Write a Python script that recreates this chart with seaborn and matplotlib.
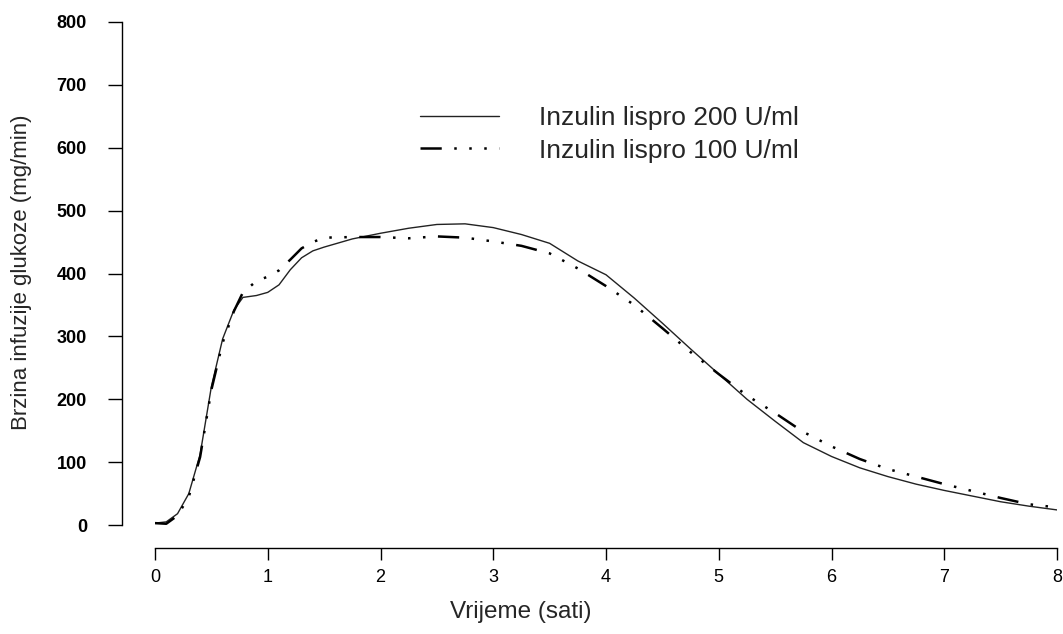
import pandas as pd
import matplotlib.pyplot as plt
import seaborn as sns

# vrijeme (sati) i brzina infuzije glukoze (mg/min), procijenjeno sa slike
t_200 = [0, 0.1, 0.2, 0.3, 0.4, 0.5, 0.6, 0.7, 0.78, 0.9, 1.0, 1.1, 1.2, 1.3, 1.4, 1.5,
         1.75, 2.0, 2.25, 2.5, 2.75, 3.0, 3.25, 3.5, 3.75, 4.0, 4.25, 4.5, 4.75, 5.0,
         5.25, 5.5, 5.75, 6.0, 6.25, 6.5, 6.75, 7.0, 7.25, 7.5, 7.75, 8.0]
gir_200 = [3, 5, 18, 50, 112, 220, 296, 342, 362, 365, 370, 382, 406, 425, 436, 442,
           455, 464, 472, 478, 479, 473, 462, 448, 420, 398, 361, 321, 280, 240,
           200, 165, 131, 109, 91, 77, 65, 55, 46, 37, 30, 24]

t_100 = [0, 0.1, 0.2, 0.3, 0.4, 0.5, 0.6, 0.7, 0.78, 0.9, 1.0, 1.1, 1.2, 1.3, 1.4, 1.5,
         1.75, 2.0, 2.25, 2.5, 2.75, 3.0, 3.25, 3.5, 3.75, 4.0, 4.25, 4.5, 4.75, 5.0,
         5.25, 5.5, 5.75, 6.0, 6.25, 6.5, 6.75, 7.0, 7.25, 7.5, 7.75, 8.0]
gir_100 = [3, 2, 15, 45, 108, 215, 290, 340, 370, 388, 395, 405, 422, 440, 450, 457,
           458, 458, 456, 459, 457, 451, 444, 432, 408, 380, 350, 313, 275, 240,
           206, 178, 148, 125, 105, 89, 77, 65, 54, 43, 33, 28]

labels = ["Inzulin lispro 200 U/ml", "Inzulin lispro 100 U/ml"]

df200 = pd.DataFrame({"t": t_200, "gir": gir_200})
df100 = pd.DataFrame({"t": t_100, "gir": gir_100})

sns.set_style("ticks")
plt.rcParams['font.family'] = ['Liberation Sans', 'DejaVu Sans']

fig = plt.figure(figsize=(10.63, 6.34), dpi=100)
ax = fig.add_axes([0.1458, 0.1719, 0.9944 - 0.1458, 0.9653 - 0.1719])

sns.lineplot(data=df200, x="t", y="gir", ax=ax, color="#222222", linewidth=1.0,
             label=labels[0])
sns.lineplot(data=df100, x="t", y="gir", ax=ax, color="black", linewidth=1.8,
             dashes=False, label=labels[1])
ax.lines[1].set_dashes((8.5, 5, 1, 5, 1, 5, 1, 5))

ax.set_xlim(0, 8)
ax.set_ylim(0, 800)
ax.set_xticks(range(0, 9))
ax.set_yticks(range(0, 801, 100))

sns.despine(ax=ax)
ax.spines["left"].set_position(("outward", 24))
ax.spines["bottom"].set_position(("outward", 16.5))
for s in ["left", "bottom"]:
    ax.spines[s].set_linewidth(1.0)
    ax.spines[s].set_color("black")

ax.tick_params(axis="y", length=10, width=1.0, pad=15, labelsize=13, colors="black")
ax.tick_params(axis="x", length=8.6, width=1.0, pad=6.5, labelsize=13, colors="black")
for lab in ax.get_yticklabels():
    lab.set_fontweight("bold")

ax.set_xlabel("Vrijeme (sati)", fontsize=17.5)
ax.set_ylabel("Brzina infuzije glukoze (mg/min)", fontsize=16)
ax.xaxis.set_label_coords(0.406, -0.152)
ax.yaxis.set_label_coords(-0.1364, 0.503)

fig_h = 634
ax.legend(loc="upper left", bbox_to_anchor=(420 / 1063, 1 - 106 / fig_h),
          bbox_transform=fig.transFigure, frameon=False, fontsize=19,
          borderpad=0, borderaxespad=0, handlelength=3.0, handletextpad=1.5,
          labelspacing=0.33)

fig.savefig("out.png", dpi=100)
